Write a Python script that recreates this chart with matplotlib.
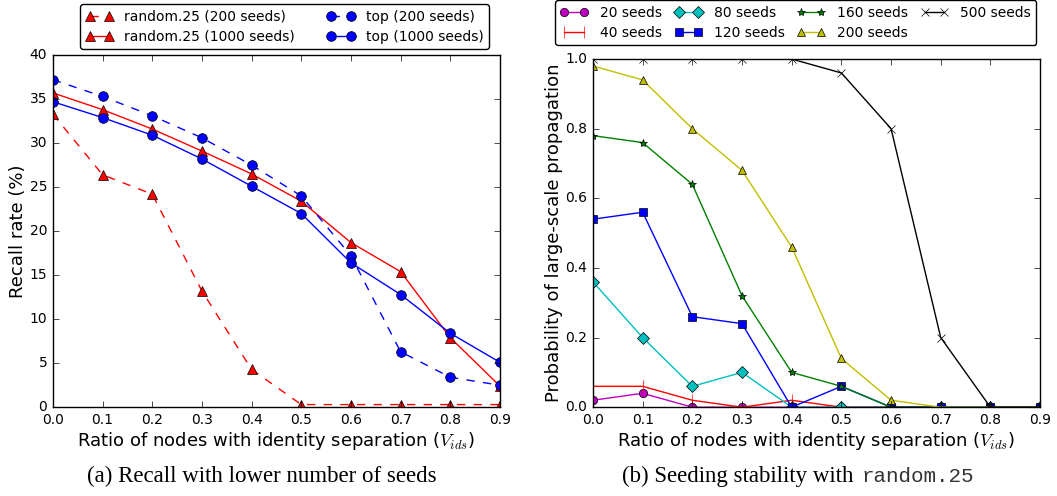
import numpy as np
import matplotlib
matplotlib.use('Agg')
import matplotlib.pyplot as plt

plt.style.use('classic')
plt.rcParams['figure.facecolor'] = 'white'
plt.rcParams['savefig.facecolor'] = 'white'
plt.rcParams['mathtext.fontset'] = 'cm'

# x positions shared by both panels
ratio = [0.0, 0.1, 0.2, 0.3, 0.4, 0.5, 0.6, 0.7, 0.8, 0.9]

# (a) recall rates in %
rand_200 = [33.3, 26.4, 24.2, 13.2, 4.3, 0.3, 0.3, 0.3, 0.3, 0.3]
rand_1000 = [35.7, 33.8, 31.6, 29.1, 26.5, 23.4, 18.7, 15.4, 7.9, 2.4]
top_200 = [37.2, 35.3, 33.1, 30.6, 27.5, 24.0, 17.2, 6.3, 3.4, 2.5]
top_1000 = [34.7, 32.9, 30.9, 28.2, 25.1, 22.0, 16.4, 12.8, 8.4, 5.1]

# (b) probability of large-scale propagation
seeds_labels = ['20 seeds', '40 seeds', '80 seeds', '120 seeds',
                '160 seeds', '200 seeds', '500 seeds']
p20 = [0.02, 0.04, 0.0, 0.0, 0.0, 0.0, 0.0, 0.0, 0.0, 0.0]
p40 = [0.06, 0.06, 0.02, 0.0, 0.02, 0.0, 0.0, 0.0, 0.0, 0.0]
p80 = [0.36, 0.20, 0.06, 0.10, 0.0, 0.0, 0.0, 0.0, 0.0, 0.0]
p120 = [0.54, 0.56, 0.26, 0.24, 0.0, 0.06, 0.0, 0.0, 0.0, 0.0]
p160 = [0.78, 0.76, 0.64, 0.32, 0.10, 0.06, 0.0, 0.0, 0.0, 0.0]
p200 = [0.98, 0.94, 0.80, 0.68, 0.46, 0.14, 0.02, 0.0, 0.0, 0.0]
p500 = [1.0, 1.0, 1.0, 1.0, 1.0, 0.96, 0.80, 0.20, 0.0, 0.0]

fig = plt.figure(figsize=(10.57, 4.96), dpi=100)
ax1 = fig.add_axes([0.050, 0.179, 0.423, 0.710])
ax2 = fig.add_axes([0.561, 0.179, 0.423, 0.702])

xlabel = r'Ratio of nodes with identity separation ($V_{ids}$)'

# --- left panel ---
ax1.plot(ratio, rand_200, 'r^--', ms=7, label='random.25 (200 seeds)')
ax1.plot(ratio, rand_1000, 'r^-', ms=7, label='random.25 (1000 seeds)')
ax1.plot(ratio, top_200, 'bo--', ms=7, label='top (200 seeds)')
ax1.plot(ratio, top_1000, 'bo-', ms=7, label='top (1000 seeds)')
ax1.set_xlim(0, 0.9)
ax1.set_ylim(0, 40)
ax1.set_xticks(ratio)
ax1.set_xlabel(xlabel, fontsize=13, labelpad=2)
ax1.set_ylabel('Recall rate (%)', fontsize=13)
ax1.yaxis.set_label_coords(-0.057, 0.5)
ax1.tick_params(labelsize=10, pad=4)
ax1.legend(loc='lower center', bbox_to_anchor=(0.518, 1.017), ncol=2,
           fontsize=10, numpoints=2, handlelength=2.0, fancybox=True,
           borderaxespad=0, columnspacing=2.3, handletextpad=0.8,
           labelspacing=0.4)

# --- right panel ---
styles = [('mo-', 6), ('r|-', 8), ('cD-', 6), ('bs-', 6),
          ('g*-', 6), ('y^-', 6), ('kx-', 6)]
series = [p20, p40, p80, p120, p160, p200, p500]
for vals, (fmt, ms), lab in zip(series, styles, seeds_labels):
    ax2.plot(ratio, vals, fmt, ms=ms, label=lab)
ax2.set_xlim(0, 0.9)
ax2.set_ylim(0, 1.0)
ax2.set_xticks(ratio)
ax2.set_xlabel(xlabel, fontsize=13, labelpad=2)
ax2.set_ylabel('Probability of large-scale propagation', fontsize=13)
ax2.yaxis.set_label_coords(-0.068, 0.5)
ax2.tick_params(labelsize=10, pad=4)
ax2.legend(loc='lower center', bbox_to_anchor=(0.453, 1.04), ncol=4,
           fontsize=10, numpoints=2, handlelength=2.0, fancybox=True,
           borderaxespad=0, columnspacing=0.9, handletextpad=0.85,
           labelspacing=0.4)

# sub-captions
fig.text(0.248, 0.028, '(a) Recall with lower number of seeds',
         ha='center', fontsize=16.5, family='Liberation Serif')
fig.text(0.588, 0.028, '(b) Seeding stability with',
         ha='left', fontsize=16.5, family='Liberation Serif')
fig.text(0.815, 0.028, 'random.25', ha='left', fontsize=15,
         family='Liberation Mono', color='#333333')

fig.savefig('out.png', dpi=100)
